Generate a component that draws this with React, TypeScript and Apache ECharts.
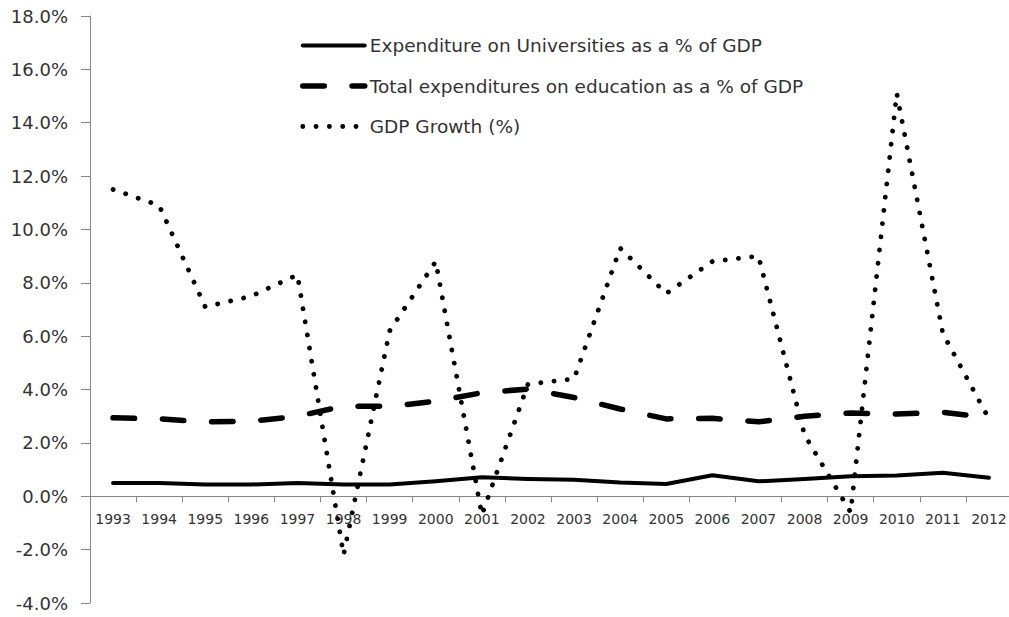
import React, { useEffect, useRef } from "react";
import * as echarts from "echarts";

const years = ["1993","1994","1995","1996","1997","1998","1999","2000","2001","2002","2003","2004","2005","2006","2007","2008","2009","2010","2011","2012"];
const universities = [0.50,0.50,0.44,0.44,0.50,0.44,0.44,0.56,0.71,0.65,0.62,0.52,0.46,0.79,0.56,0.65,0.75,0.78,0.88,0.69];
const education = [2.94,2.90,2.79,2.81,3.00,3.38,3.37,3.56,3.88,4.02,3.70,3.27,2.90,2.92,2.79,3.00,3.12,3.08,3.15,2.94];
const gdpGrowth = [11.5,10.9,7.1,7.5,8.3,-2.2,6.2,8.8,-0.7,4.2,4.4,9.3,7.6,8.8,9.0,2.3,-0.6,15.1,6.1,2.9];

const yMin = -4;
const yMax = 18;
const yStep = 2;

const seriesNames = [
  "Expenditure on Universities as a % of GDP",
  "Total expenditures on education as a % of GDP",
  "GDP Growth (%)",
];

const solidStyle = { color: "#000", width: 4, type: "solid", cap: "round", join: "round" };
const dashStyle = { color: "#000", width: 5.5, type: [21.5, 27.8], cap: "round", join: "round" };
const dotStyle = { color: "#000", width: 4.8, type: [0.1, 13.2], cap: "round", join: "round" };

export default function App() {
  const ref = useRef<HTMLDivElement>(null);
  useEffect(() => {
    document.body.style.margin = "0";
    const chart = echarts.init(ref.current!, null, { renderer: "svg" });
    const font = "DejaVu Sans";
    const gridTop = 16;
    const gridBottom = 14;
    const gridHeight = 617 - gridTop - gridBottom;
    const zeroOffset = ((0 - yMin) / (yMax - yMin)) * gridHeight;
    chart.setOption({
      animation: false,
      backgroundColor: "#ffffff",
      grid: {
        left: 90,
        top: gridTop,
        width: 922,
        bottom: gridBottom,
        containLabel: false,
        outerBoundsMode: "none",
      },
      legend: {
        orient: "vertical",
        left: 295,
        top: 31,
        itemWidth: 62,
        itemHeight: 16,
        itemGap: 21.5,
        itemStyle: { opacity: 0 },
        textStyle: { fontFamily: font, fontSize: 18.5, color: "#333" },
        data: [
          { name: seriesNames[0], lineStyle: solidStyle, itemStyle: { opacity: 0 } },
          { name: seriesNames[1], lineStyle: dashStyle, itemStyle: { opacity: 0 } },
          { name: seriesNames[2], lineStyle: dotStyle, itemStyle: { opacity: 0 } },
        ],
      },
      xAxis: {
        type: "category",
        data: years,
        boundaryGap: true,
        position: "bottom",
        offset: -zeroOffset,
        axisLine: { onZero: false, lineStyle: { color: "#868686", width: 1 } },
        axisTick: { show: true, length: 6, inside: false, alignWithLabel: false, lineStyle: { color: "#868686" } },
        axisLabel: { fontFamily: font, fontSize: 14, color: "#333", margin: 16, interval: 0 },
        splitLine: { show: false },
      },
      yAxis: {
        type: "value",
        min: yMin,
        max: yMax,
        interval: yStep,
        axisLine: { show: true, lineStyle: { color: "#868686", width: 1 } },
        axisTick: { show: true, length: 9, lineStyle: { color: "#868686" } },
        axisLabel: {
          fontFamily: font,
          fontSize: 18,
          color: "#333",
          margin: 22,
          formatter: (v: number) => v.toFixed(1) + "%",
        },
        splitLine: { show: false },
      },
      series: [
        {
          name: seriesNames[0],
          type: "line",
          data: universities,
          symbol: "none",
          lineStyle: solidStyle,
          itemStyle: { color: "#000" },
        },
        {
          name: seriesNames[1],
          type: "line",
          data: education,
          symbol: "none",
          lineStyle: dashStyle,
          itemStyle: { color: "#000" },
        },
        {
          name: seriesNames[2],
          type: "line",
          data: gdpGrowth,
          symbol: "none",
          lineStyle: dotStyle,
          itemStyle: { color: "#000" },
        },
      ],
    });
    return () => chart.dispose();
  }, []);
  return <div ref={ref} style={{ width: 1009, height: 617 }} />;
}
